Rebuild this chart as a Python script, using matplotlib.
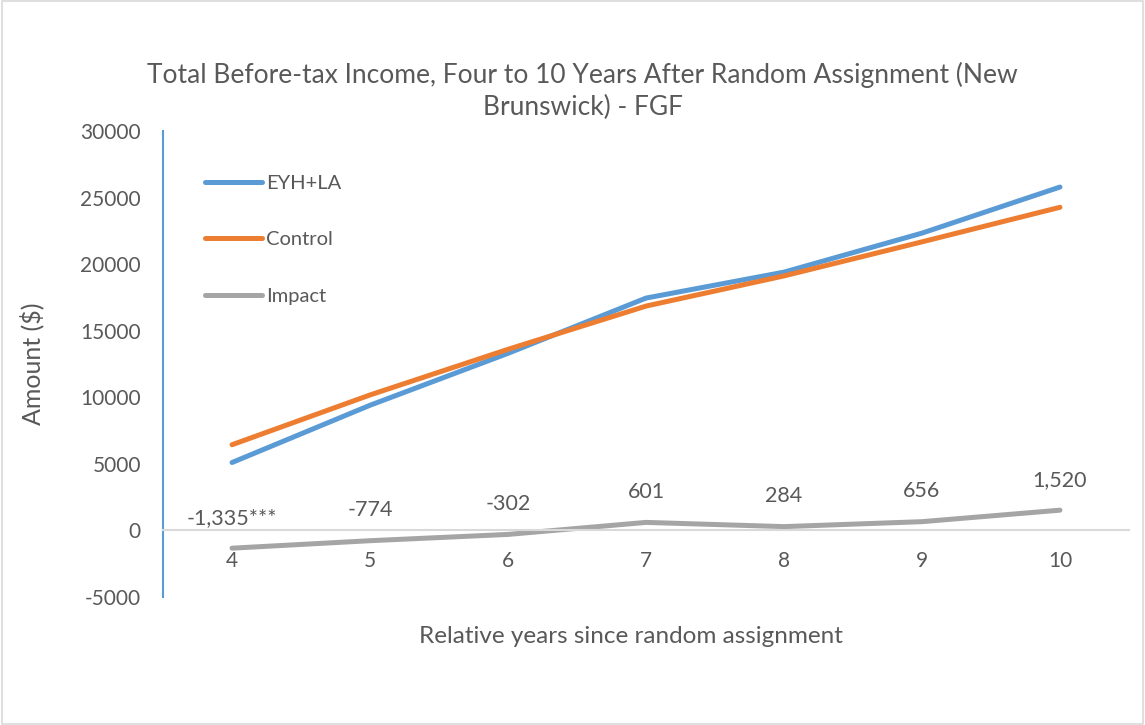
import matplotlib.pyplot as plt
from matplotlib.patches import Rectangle

plt.rcParams["font.family"] = ["Lato", "DejaVu Sans"]
plt.rcParams["axes.unicode_minus"] = False

# Datos
years = [4, 5, 6, 7, 8, 9, 10]
eyh_la = [5100, 9400, 13300, 17450, 19400, 22330, 25790]
control = [6435, 10174, 13602, 16849, 19116, 21674, 24270]
impact = [-1335, -774, -302, 601, 284, 656, 1520]
impact_labels = ["-1,335***", "-774", "-302", "601", "284", "656", "1,520"]

text_color = "#595959"

fig = plt.figure(figsize=(11.45, 7.25), dpi=100)
ax = fig.add_axes([0.1424, 0.1766, 0.8436, 0.6427])

# Borde de la figura
fig.patches.append(Rectangle((0.002, 0.002), 0.996, 0.996, transform=fig.transFigure,
                             fill=False, edgecolor="#D9D9D9", linewidth=1.2))

ax.plot(years, eyh_la, color="#5B9BD5", linewidth=3.6, solid_capstyle="round", label="EYH+LA")
ax.plot(years, control, color="#ED7D31", linewidth=3.6, solid_capstyle="round", label="Control")
ax.plot(years, impact, color="#A5A5A5", linewidth=3.6, solid_capstyle="round", label="Impact")

# Etiquetas de la serie Impact
for x, y, lab in zip(years, impact, impact_labels):
    ax.annotate(lab, (x, y), xytext=(0, 22), textcoords="offset points",
                ha="center", va="center", fontsize=15.5, color=text_color)

ax.set_xlim(3.5, 10.5)
ax.set_ylim(-5000, 30000)
ax.set_xticks(years)
ax.set_yticks(range(-5000, 30001, 5000))

ax.spines["top"].set_visible(False)
ax.spines["right"].set_visible(False)
ax.spines["left"].set_color("#5B9BD5")
ax.spines["left"].set_linewidth(1.5)
ax.spines["bottom"].set_position(("data", 0))
ax.spines["bottom"].set_color("#D9D9D9")
ax.spines["bottom"].set_linewidth(1.5)

ax.tick_params(axis="both", length=0, labelsize=15, labelcolor=text_color)
ax.tick_params(axis="x", pad=15)
ax.tick_params(axis="y", pad=16)

fig.text(0.509, 0.8745, "Total Before-tax Income, Four to 10 Years After Random Assignment (New\nBrunswick) - FGF",
         ha="center", va="center", fontsize=19, color=text_color, linespacing=1.3)
fig.text(0.028, 0.498, "Amount ($)", rotation=90, ha="center", va="center",
         fontsize=18, color=text_color)
fig.text(0.551, 0.1214, "Relative years since random assignment", ha="center", va="center",
         fontsize=17.5, color=text_color)

leg = ax.legend(loc="upper left", bbox_to_anchor=(0.025, 0.945), frameon=False, fontsize=14.5,
                handlelength=2.8, handletextpad=0.2, labelspacing=1.95)
for t in leg.get_texts():
    t.set_color(text_color)

plt.savefig("out.png", dpi=100)
